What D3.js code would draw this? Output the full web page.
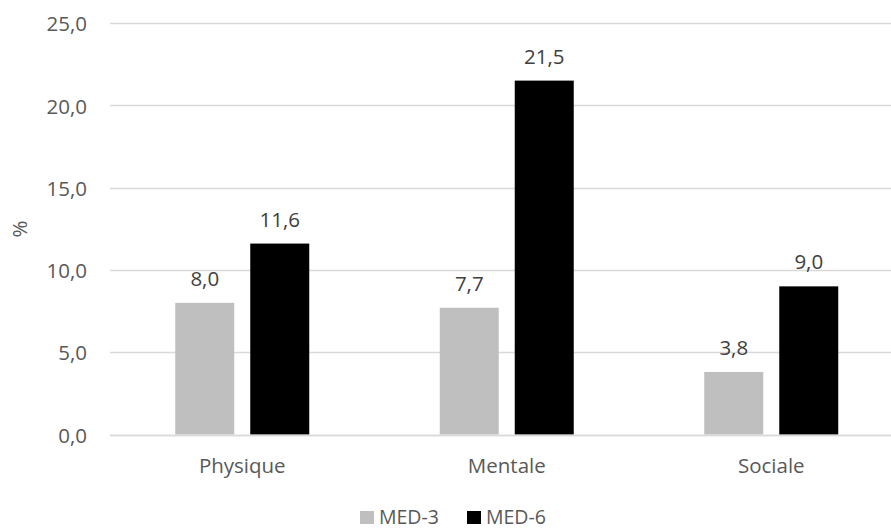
<!DOCTYPE html>
<html>
<head>
<meta charset="utf-8">
<script src="https://cdn.jsdelivr.net/npm/d3@7"></script>
<style>
  html, body { margin: 0; padding: 0; background: #fff; }
  svg { display: block; font-family: "Open Sans", "Noto Sans", sans-serif; }
</style>
</head>
<body>
<svg id="chart" width="891" height="529"></svg>
<script>
const categories = ["Physique", "Mentale", "Sociale"];
const seriesNames = ["MED-3", "MED-6"];
const med3 = [8.0, 7.7, 3.8];
const med6 = [11.6, 21.5, 9.0];
const yTicks = [0, 5, 10, 15, 20, 25];
const colors = ["#bfbfbf", "#000000"];

const FS = 20.5;
const svg = d3.select("#chart");
const plotLeft = 110, plotRight = 903.5, plotTop = 23, plotBottom = 434.5;
const x0 = d3.scaleBand().domain(categories).range([plotLeft, plotRight]).padding(0);
const y = d3.scaleLinear().domain([0, 25]).range([plotBottom, plotTop]);
const fmt = v => d3.format(".1f")(v).replace(".", ",");

// gridlines
svg.append("g").selectAll("line").data(yTicks).join("line")
  .attr("x1", plotLeft).attr("x2", plotRight)
  .attr("y1", d => Math.round(y(d)) + 0.5).attr("y2", d => Math.round(y(d)) + 0.5)
  .attr("stroke", "#d9d9d9").attr("stroke-width", 1.5);

// y tick labels
svg.append("g").selectAll("text").data(yTicks).join("text")
  .attr("x", 87).attr("y", d => y(d) + 8.2)
  .attr("text-anchor", "end")
  .attr("font-size", FS).attr("fill", "#595959")
  .text(fmt);

// axis title
svg.append("text")
  .attr("transform", `translate(27,229) rotate(-90)`)
  .attr("text-anchor", "middle").attr("font-size", FS).attr("fill", "#595959")
  .text("%");

const barW = 59, gap = 16;
const series = [med3, med6];
series.forEach((vals, si) => {
  const offset = si === 0 ? -(gap / 2 + barW) : gap / 2;
  const g = svg.append("g");
  g.selectAll("rect").data(categories).join("rect")
    .attr("x", c => x0(c) + x0.bandwidth() / 2 + offset)
    .attr("width", barW)
    .attr("y", (c, i) => y(vals[i]))
    .attr("height", (c, i) => y(0) - y(vals[i]))
    .attr("fill", colors[si]);
  g.selectAll("text").data(categories).join("text")
    .attr("x", c => x0(c) + x0.bandwidth() / 2 + offset + barW / 2)
    .attr("y", (c, i) => y(vals[i]) - 17)
    .attr("text-anchor", "middle").attr("font-size", FS).attr("fill", "#404040")
    .text((c, i) => fmt(vals[i]));
});

// baseline drawn over the bar bottoms
svg.append("line")
  .attr("x1", plotLeft).attr("x2", plotRight)
  .attr("y1", Math.round(y(0)) + 0.5).attr("y2", Math.round(y(0)) + 0.5)
  .attr("stroke", "#d9d9d9").attr("stroke-width", 1.5);

// category labels
svg.append("g").selectAll("text").data(categories).join("text")
  .attr("x", c => x0(c) + x0.bandwidth() / 2)
  .attr("y", 473)
  .attr("text-anchor", "middle").attr("font-size", FS).attr("fill", "#595959")
  .text(c => c);

// legend
const legendX = [360, 467];
const LFS = 19.5;
const lg = svg.append("g");
seriesNames.forEach((name, i) => {
  lg.append("rect").attr("x", legendX[i]).attr("y", 511).attr("width", 14).attr("height", 13).attr("fill", colors[i]);
  lg.append("text").attr("x", legendX[i] + 19).attr("y", 523.5)
    .attr("font-size", LFS).attr("fill", "#595959").text(name);
});
</script>
</body>
</html>
